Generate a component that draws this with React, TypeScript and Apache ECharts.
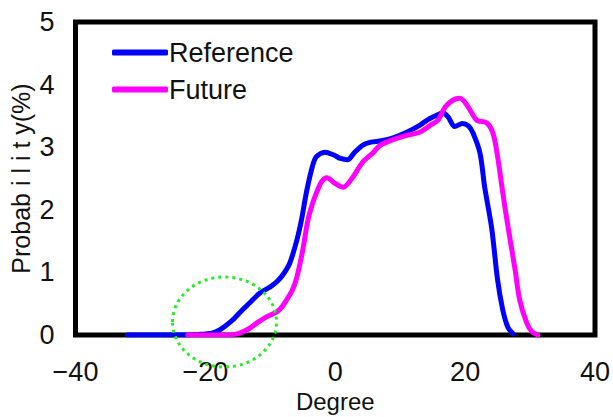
import React, { useEffect, useRef } from "react";
import * as echarts from "echarts";

const seriesNames = ["Reference", "Future"];
const referenceDeg = [-32, -24, -21, -19, -17.8, -16, -14.5, -13.2, -11.6, -10, -9, -8, -7, -5.9, -5.2, -4.4, -3.5, -2.9, -1.6, -0.3, 0.8, 1.9, 3, 4.2, 5.5, 6.9, 8.9, 11, 13, 14.1, 15.6, 16.6, 17.4, 18.4, 19.6, 20.5, 21.2, 22.3, 23, 24.1, 25, 25.8, 26.6, 27.4];
const referenceProb = [0, 0, 0.01, 0.03, 0.08, 0.22, 0.38, 0.51, 0.67, 0.77, 0.85, 0.97, 1.15, 1.52, 1.84, 2.3, 2.7, 2.85, 2.92, 2.88, 2.82, 2.8, 2.92, 3.03, 3.08, 3.1, 3.15, 3.24, 3.35, 3.43, 3.51, 3.55, 3.48, 3.33, 3.38, 3.34, 3.23, 2.9, 2.37, 1.7, 0.88, 0.4, 0.12, 0.02];
const futureDeg = [-22.7, -17, -15.5, -14.7, -13.3, -12.1, -10.6, -9, -8.2, -7.5, -6.6, -5.9, -5, -4.2, -3.5, -2.9, -2.1, -1.3, 0, 1.2, 2.7, 4.2, 5.8, 6.9, 8.9, 11, 13, 14.6, 15.8, 16.9, 18.1, 19.2, 20.3, 21.8, 23.3, 24.3, 25, 25.8, 26.6, 27.7, 28.4, 29.5, 30.3, 31.2];
const futureProb = [0, 0, 0.01, 0.03, 0.1, 0.19, 0.29, 0.37, 0.45, 0.56, 0.72, 0.93, 1.36, 1.84, 2.1, 2.27, 2.45, 2.51, 2.42, 2.36, 2.52, 2.76, 2.91, 3.03, 3.12, 3.19, 3.24, 3.35, 3.43, 3.64, 3.75, 3.78, 3.67, 3.43, 3.39, 3.22, 2.85, 2.27, 1.73, 1.04, 0.56, 0.19, 0.05, 0];
const xTicks = [-40, -20, 0, 20, 40];
const yTicks = [0, 1, 2, 3, 4, 5];

const FONT = "Liberation Sans";

export default function App() {
  const ref = useRef<HTMLDivElement>(null);
  useEffect(() => {
    if (!ref.current) return;
    const chart = echarts.init(ref.current, null, { renderer: "svg" });
    const zip = (xs: number[], ys: number[]) => xs.map((x, i) => [x, ys[i]]);
    chart.setOption({
      animation: false,
      backgroundColor: "#fff",
      grid: {
        left: 75.5,
        right: 18,
        top: 22,
        bottom: 82,
        containLabel: false,
        outerBoundsMode: "none",
        show: true,
        borderColor: "#000",
        borderWidth: 5,
      },
      legend: {
        orient: "vertical",
        left: 107,
        top: 34,
        itemWidth: 56,
        itemHeight: 6,
        itemGap: 10,
        icon: "roundRect",
        textStyle: { fontFamily: FONT, fontSize: 27, color: "#111", padding: [0, 0, 0, -4] },
        data: seriesNames,
      },
      xAxis: {
        type: "value",
        min: xTicks[0],
        max: xTicks[xTicks.length - 1],
        interval: 20,
        axisLine: { show: false },
        axisTick: { show: false },
        splitLine: { show: false },
        axisLabel: {
          fontFamily: FONT,
          fontSize: 27,
          color: "#111",
          margin: 23,
          formatter: (v: number) => (v < 0 ? "\u2212" + Math.abs(v) : String(v)),
        },
        name: "Degree",
        nameLocation: "middle",
        nameGap: 53,
        nameTextStyle: { fontFamily: FONT, fontSize: 24, color: "#111" },
      },
      yAxis: {
        type: "value",
        min: yTicks[0],
        max: yTicks[yTicks.length - 1],
        interval: 1,
        axisLine: { show: false },
        axisTick: { show: false },
        splitLine: { show: false },
        axisLabel: { fontFamily: FONT, fontSize: 27, color: "#111", margin: 21 },
        name: "Probab i l i t y(%)",
        nameLocation: "middle",
        nameGap: 42,
        nameMoveOverlap: false,
        nameTextStyle: { fontFamily: FONT, fontSize: 25, color: "#111" },
      },
      graphic: [
        {
          type: "ellipse",
          shape: { cx: 224.5, cy: 322, rx: 52, ry: 45 },
          style: { fill: "none", stroke: "#22ee22", lineWidth: 3, lineDash: [3, 4] },
          z: 10,
        },
      ],
      series: [
        {
          name: seriesNames[0],
          type: "line",
          data: zip(referenceDeg, referenceProb),
          smooth: 0.3,
          showSymbol: false,
          symbol: "none",
          color: "#0000ff",
          lineStyle: { width: 5, color: "#0000ff", cap: "round" },
          z: 3,
        },
        {
          name: seriesNames[1],
          type: "line",
          data: zip(futureDeg, futureProb),
          smooth: 0.3,
          showSymbol: false,
          symbol: "none",
          color: "#ff00ff",
          lineStyle: { width: 5, color: "#ff00ff", cap: "round" },
          z: 4,
        },
      ],
    });
    return () => chart.dispose();
  }, []);
  return (
    <div
      ref={ref}
      style={{ position: "fixed", left: 0, top: 0, width: 613, height: 417, background: "#fff" }}
    />
  );
}
